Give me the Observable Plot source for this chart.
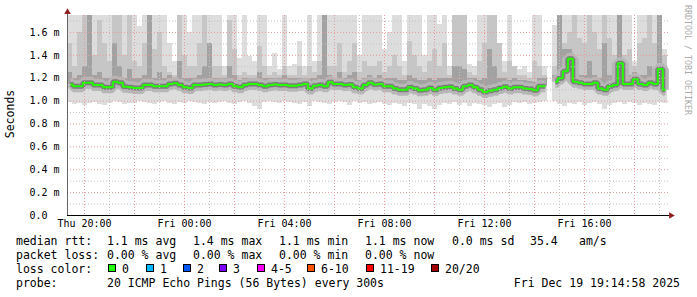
<!DOCTYPE html>
<html><head><meta charset="utf-8">
<script src="https://cdn.jsdelivr.net/npm/d3@7"></script>
<script src="https://cdn.jsdelivr.net/npm/@observablehq/plot@0.6"></script>
<style>
html,body{margin:0;padding:0;background:#fff;}
#wrap{position:relative;width:697px;height:297px;overflow:hidden;font-family:"DejaVu Sans Mono",monospace;color:#000;background:#fff;}
.t{position:absolute;white-space:pre;font-size:11.5px;line-height:14px;}
.box{position:absolute;width:6px;height:6px;border:1px solid #000;}
</style></head><body><div id="wrap"></div>
<script>
// 12-minute samples starting Thu Dec 18 2025 19:20 (values in ms)
const med = [
 1.145,1.13,1.13,1.16,1.16,1.14,1.14,1.12,1.12,1.17,
 1.16,1.125,1.12,1.115,1.115,1.14,1.14,1.13,1.13,1.13,
 1.15,1.155,1.14,1.12,1.115,1.14,1.14,1.145,1.15,1.14,
 1.145,1.14,1.15,1.13,1.12,1.14,1.15,1.15,1.14,1.13,
 1.14,1.145,1.14,1.14,1.135,1.135,1.14,1.15,1.11,1.135,
 1.14,1.13,1.165,1.15,1.15,1.14,1.145,1.12,1.11,1.14,
 1.16,1.145,1.15,1.13,1.13,1.11,1.10,1.10,1.12,1.11,
 1.095,1.10,1.115,1.10,1.115,1.12,1.125,1.11,1.10,1.13,
 1.14,1.12,1.10,1.08,1.09,1.10,1.115,1.125,1.11,1.12,
 1.12,1.11,1.105,1.095,1.13,1.13,null,1.17,1.20,1.26,
 1.37,1.17,1.16,1.15,1.15,1.16,1.11,1.10,1.13,1.14,
 1.33,1.15,1.15,1.19,1.15,1.14,1.16,1.15,1.28,1.10];
const lo = [
 0.99,0.97,0.98,0.96,0.98,0.99,0.97,0.96,0.98,1.0,
 0.99,0.97,0.98,0.98,1.0,0.99,0.98,0.97,0.99,1.0,
 0.98,0.97,0.99,0.98,1.0,0.99,0.98,0.97,0.99,0.98,
 0.99,1.0,0.98,0.97,0.99,1.0,0.98,0.95,0.93,0.99,
 1.0,0.99,0.98,1.0,0.99,0.98,0.97,0.99,0.95,1.0,
 0.99,0.98,0.97,0.99,1.0,0.99,0.96,1.0,0.98,0.99,
 0.97,0.98,0.99,0.97,0.96,0.98,0.97,0.95,0.98,0.97,
 0.93,0.97,0.95,0.93,0.96,0.98,0.97,0.99,0.96,0.98,
 0.95,0.98,0.97,0.96,0.94,0.97,0.98,0.94,0.96,0.99,
 0.98,0.99,0.97,0.98,0.99,1.0,null,1.0,0.97,0.95,
 0.98,0.97,0.99,0.96,0.98,0.99,0.97,0.93,0.96,0.98,
 0.99,0.97,0.99,0.98,0.96,0.98,0.97,0.96,0.99,0.98];
const hiL = [
 1.8,1.8,1.8,1.8,1.8,1.8,1.8,1.8,1.8,1.8,
 1.8,1.8,1.8,1.8,1.65,1.8,1.8,1.8,1.8,1.8,
 1.5,1.35,1.8,1.8,1.6,1.8,1.8,1.8,1.8,1.8,
 1.8,1.3,1.8,1.8,1.37,1.8,1.39,1.35,1.8,1.8,
 1.3,1.42,1.28,1.8,1.3,1.32,1.52,1.3,1.8,1.35,
 1.8,1.8,1.8,1.8,1.8,1.8,1.8,1.8,1.4,1.8,
 1.8,1.8,1.8,1.45,1.6,1.8,1.8,1.35,1.8,1.8,
 1.8,1.4,1.8,1.8,1.67,1.8,1.3,1.8,1.8,1.8,
 1.32,1.3,1.8,1.8,1.8,1.8,1.5,1.35,1.8,1.3,
 1.28,1.3,1.25,1.8,1.8,1.3,null,1.66,1.8,1.8,
 1.8,1.8,1.8,1.8,1.8,1.8,1.8,1.8,1.8,1.8,
 1.8,1.8,1.8,1.35,1.8,1.8,1.8,1.8,1.8,1.45];
const hiM = [
 1.5,1.3,1.6,1.8,1.45,1.4,1.7,1.5,1.35,1.8,
 1.8,1.4,1.8,1.35,1.3,1.5,1.6,1.45,1.6,1.3,
 1.25,1.22,1.8,1.4,1.3,1.3,1.5,1.8,1.35,1.3,
 1.3,1.22,1.7,1.45,1.22,1.25,1.22,1.22,1.48,1.3,
 1.22,1.25,1.22,1.3,1.22,1.22,1.3,1.22,1.3,1.25,
 1.35,1.4,1.3,1.3,1.5,1.25,1.35,1.5,1.25,1.35,
 1.3,1.3,1.35,1.25,1.3,1.4,1.3,1.22,1.52,1.4,
 1.3,1.25,1.35,1.45,1.3,1.5,1.22,1.8,1.8,1.8,
 1.25,1.22,1.35,1.5,1.8,1.8,1.5,1.25,1.35,1.3,
 1.22,1.22,1.2,1.35,1.3,1.22,null,1.3,1.4,1.5,
 1.6,1.8,1.55,1.5,1.8,1.6,1.45,1.8,1.55,1.4,
 1.6,1.4,1.45,1.3,1.5,1.55,1.8,1.5,1.6,1.4];
const hiC = [
 1.25,1.2,1.22,1.3,1.8,1.22,1.25,1.2,1.2,1.5,
 1.3,1.2,1.28,1.2,1.2,1.22,1.8,1.2,1.25,1.2,
 1.22,1.2,1.35,1.2,1.2,1.2,1.22,1.3,1.5,1.2,
 1.2,1.2,1.3,1.22,1.18,1.2,1.2,1.2,1.25,1.2,
 1.2,1.2,1.2,1.22,1.2,1.2,1.2,1.2,1.2,1.2,
 1.22,1.8,1.22,1.2,1.25,1.2,1.22,1.25,1.18,1.2,
 1.22,1.2,1.22,1.2,1.2,1.2,1.18,1.18,1.22,1.2,
 1.18,1.18,1.2,1.18,1.2,1.2,1.2,1.3,1.3,1.28,
 1.2,1.2,1.18,1.2,1.45,1.3,1.2,1.2,1.18,1.2,
 1.18,1.18,1.17,1.16,1.2,1.2,null,1.22,1.8,1.45,
 1.45,1.25,1.22,1.22,1.35,1.22,1.2,1.5,1.22,1.22,
 1.8,1.22,1.22,1.25,1.22,1.22,1.3,1.22,1.8,1.18];

const yLabels = [0,0.2,0.4,0.6,0.8,1.0,1.2,1.4,1.6];
const yMajor = [0.2,0.4,0.6,0.8,1.0,1.2,1.4,1.6];
const yMinor = [0.1,0.3,0.5,0.7,0.9,1.1,1.3,1.5,1.7];
const xLabelTimes = ["2025-12-18T20:00Z","2025-12-19T00:00Z","2025-12-19T04:00Z","2025-12-19T08:00Z","2025-12-19T12:00Z","2025-12-19T16:00Z"];
const xMajorTimes = ["2025-12-18T20:00Z","2025-12-18T22:00Z","2025-12-19T00:00Z","2025-12-19T02:00Z","2025-12-19T04:00Z","2025-12-19T06:00Z","2025-12-19T08:00Z","2025-12-19T10:00Z","2025-12-19T12:00Z","2025-12-19T14:00Z","2025-12-19T16:00Z","2025-12-19T18:00Z"];
const xMinorTimes = ["2025-12-18T21:00Z","2025-12-18T23:00Z","2025-12-19T01:00Z","2025-12-19T03:00Z","2025-12-19T05:00Z","2025-12-19T07:00Z","2025-12-19T09:00Z","2025-12-19T11:00Z","2025-12-19T13:00Z","2025-12-19T15:00Z","2025-12-19T17:00Z","2025-12-19T19:00Z"];
const dayNames = ["Sun","Mon","Tue","Wed","Thu","Fri","Sat"];

const legendLine1 = [["median rtt:",16],["1.1 ms avg",107],["1.4 ms max",193],["1.1 ms min",279],["1.1 ms now",365],["0.0 ms sd",452],["35.4",530],["am/s",579]];
const legendLine2 = [["packet loss:",16],["0.00 % avg",107],["0.00 % max",193],["0.00 % min",279],["0.00 % now",365]];
const lossLabels = ["0","1","2","3","4-5","6-10","11-19","20/20"];
const lossColors = ["#26ff00","#00b8ff","#0059ff","#7e00ff","#ff00ff","#ff5500","#ff0000","#a10000"];
const lossBoxX = [108,146,183,219,257,307,366,431];
const probeText = "20 ICMP Echo Pings (56 Bytes) every 300s";
const stampText = "Fri Dec 19 19:14:58 2025";

const t0 = Date.UTC(2025,11,18,19,20);
const stepMs = 12*60*1000;
const rows = med.map((m,i)=>({
  t: new Date(t0+i*stepMs), t2: new Date(t0+(i+1)*stepMs), tc: new Date(t0+(i+0.5)*stepMs),
  med: m, lo: lo[i], hiL: hiL[i], hiM: hiM[i], hiC: hiC[i]
}));
const xDomain = [new Date(Date.UTC(2025,11,18,19,19,12)), new Date(Date.UTC(2025,11,19,19,24,0))];
const pad = n => String(n).padStart(2,"0");
const fmtX = d => dayNames[d.getUTCDay()] + " " + pad(d.getUTCHours()) + ":" + pad(d.getUTCMinutes());
const toD = a => a.map(s => new Date(s));

const lineOpts = {x:"tc", y:"med", curve:"step", strokeLinecap:"butt", strokeLinejoin:"miter", clip:true};

const chart = Plot.plot({
  width: 697, height: 232,
  marginLeft: 67, marginRight: 28, marginTop: 15, marginBottom: 17,
  x: {type:"utc", domain: xDomain},
  y: {domain: [0, 1.748]},
  style: {fontFamily:"DejaVu Sans Mono", fontSize:"10px", background:"#fff", color:"#000", overflow:"visible"},
  marks: [
    Plot.rectY(rows, {x1:"t", x2:"t2", y1:"lo", y2:"hiL", fill:"#dddddd", clip:true, shapeRendering:"crispEdges"}),
    Plot.rectY(rows, {x1:"t", x2:"t2", y1:"med", y2:"hiM", fill:"#c6c6c6", clip:true, shapeRendering:"crispEdges"}),
    Plot.rectY(rows, {x1:"t", x2:"t2", y1:"med", y2:"hiC", fill:"#a2a2a2", clip:true, shapeRendering:"crispEdges"}),
    Plot.line(rows, {...lineOpts, stroke:"#b6b6b6", strokeWidth:12}),
    Plot.line(rows, {...lineOpts, stroke:"#7c7c7c", strokeWidth:5}),
    Plot.ruleY(yMinor, {stroke:"#c2c2c2", strokeDasharray:"1,2"}),
    Plot.ruleX(toD(xMinorTimes), {stroke:"#c2c2c2", strokeDasharray:"1,2"}),
    Plot.ruleY(yMajor, {stroke:"#e89a9a", strokeDasharray:"1,2"}),
    Plot.ruleX(toD(xMajorTimes), {stroke:"#e89a9a", strokeDasharray:"1,2"}),
    Plot.line(rows, {...lineOpts, stroke:"#26ff00", strokeWidth:2}),
    Plot.ruleX([xDomain[0]], {y1:0, y2:1.765, stroke:"#666"}),
    Plot.ruleY([0], {stroke:"#000"}),
    Plot.dot([xDomain[0]], {x:d=>d, y:()=>1.765, symbol:"triangle", r:2.4, fill:"#8b1e1e", stroke:"none", dy:-1.5}),
    Plot.dot([xDomain[1]], {x:d=>d, y:()=>0, symbol:"triangle", r:2.4, fill:"#8b1e1e", stroke:"none", rotate:90, dx:1.5}),
    Plot.axisY({ticks: yLabels, tickFormat: d => d===0 ? "0.0" : d.toFixed(1)+" m", tickSize:0, tickPadding:0, textAnchor:"start", dx:-38, label:null, fill:"#000"}),
    Plot.axisX({ticks: toD(xLabelTimes), tickFormat: fmtX, tickSize:0, tickPadding:4, label:null, fill:"#000"})
  ]
});

const wrap = document.getElementById("wrap");
chart.style.position = "absolute"; chart.style.left = "0"; chart.style.top = "0";
wrap.appendChild(chart);

function addText(txt, x, top, extra) {
  const s = document.createElement("span");
  s.className = "t"; s.textContent = txt;
  s.style.left = x + "px"; s.style.top = top + "px";
  if (extra) Object.assign(s.style, extra);
  wrap.appendChild(s); return s;
}
legendLine1.forEach(([t,x]) => addText(t, x, 234));
legendLine2.forEach(([t,x]) => addText(t, x, 248));
addText("loss color:", 16, 262);
lossLabels.forEach((lab,i) => {
  const b = document.createElement("div");
  b.className = "box"; b.style.left = lossBoxX[i]+"px"; b.style.top = "264px"; b.style.background = lossColors[i];
  wrap.appendChild(b);
  addText(lab, lossBoxX[i]+14, 262);
});
addText("probe:", 16, 276);
addText(probeText, 107, 276);
const st = addText(stampText, 0, 276); st.style.left = ""; st.style.right = "17px";

const yl = addText("Seconds", 10, 114);
Object.assign(yl.style, {transform:"translate(-50%,-50%) rotate(-90deg)"});
const wm = addText("RRDTOOL / TOBI OETIKER", 687.5, 60);
Object.assign(wm.style, {fontSize:"8.3px", lineHeight:"10px", color:"#ababab", transform:"translate(-50%,-50%) rotate(90deg)"});
</script></body></html>
